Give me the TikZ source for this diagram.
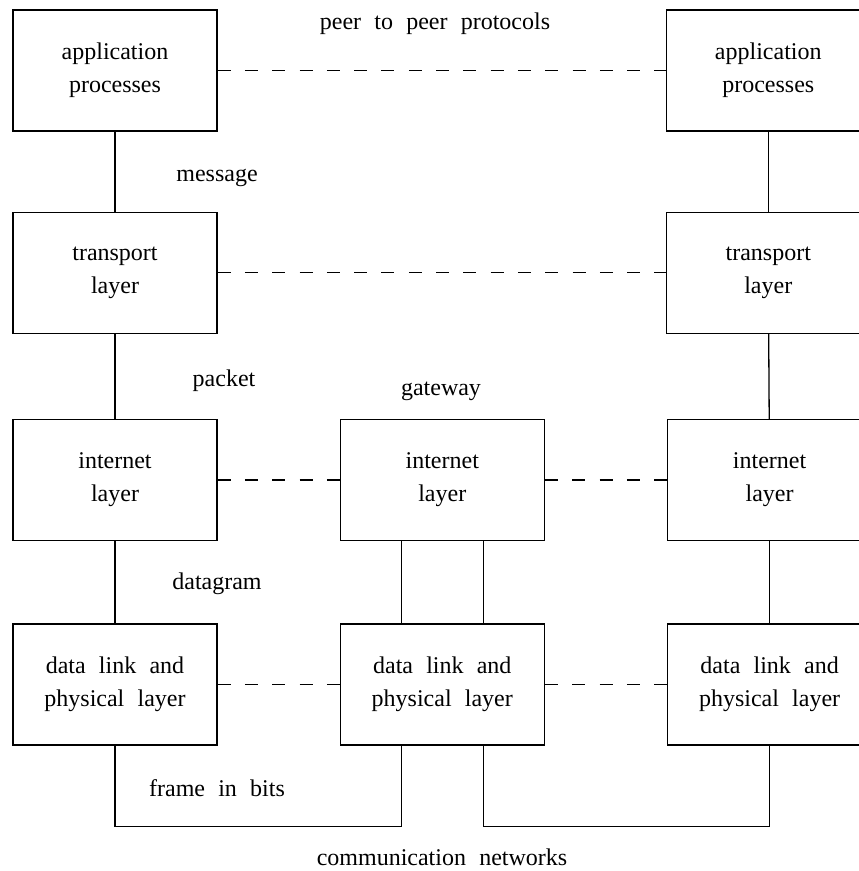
\documentclass[tikz,border=0pt]{standalone}
\usepackage{fontspec}
\setmainfont{Liberation Serif}[WordSpace=2.2]
\usetikzlibrary{positioning}
\tikzstyle{layer} = [rectangle, draw=black, line width=1.3pt, minimum width=204pt, minimum height=121pt, inner sep=0pt, align=center, font=\fontsize{24}{33}\selectfont]
\tikzstyle{peer} = [line width=1.3pt, dash pattern=on 13pt off 14.3pt]
\tikzstyle{link} = [line width=1.3pt]
\tikzstyle{tag} = [font=\fontsize{24}{33}\selectfont, inner sep=0pt]

\begin{document}
\begin{tikzpicture}[x=1pt, y=-1pt]
    \clip (0,0) rectangle (859,871);

    % Left host
    \node[layer] (appL) at (115,70.5) {application\\processes};
    \node[layer, below=80pt of appL] (trL) {transport\\layer};
    \node[layer, below=85pt of trL] (inL) {internet\\layer};
    \node[layer, below=82pt of inL] (dlL) {data link and\\physical layer};

    % Gateway
    \node[layer, right=122pt of inL] (inG) {internet\\layer};
    \node[layer, right=122pt of dlL] (dlG) {data link and\\physical layer};

    % Right host
    \node[layer, right=448pt of appL] (appR) {application\\processes};
    \node[layer, right=448pt of trL] (trR) {transport\\layer};
    \node[layer, right=122pt of inG] (inR) {internet\\layer};
    \node[layer, right=122pt of dlG] (dlR) {data link and\\physical layer};

    % Stacks
    \draw[link] (appL) -- (trL);
    \draw[link] (trL) -- (inL);
    \draw[link] (inL) -- (dlL);
    \draw[link] (appR) -- (trR);
    \draw[link] (trR) -- (inR);
    \draw[link] (inR) -- (dlR);
    \draw[link] ([xshift=-41pt]inG.south) -- ([xshift=-41pt]dlG.north);
    \draw[link] ([xshift=41pt]inG.south) -- ([xshift=41pt]dlG.north);

    % Networks
    \draw[link] ([xshift=-41pt]dlG.south) -- ++(0,81) -| (dlL.south);
    \draw[link] ([xshift=41pt]dlG.south) -- ++(0,81) -| (dlR.south);

    % Peer to peer
    \draw[peer] (appL) -- (appR);
    \draw[peer] (trL) -- (trR);
    \draw[peer] (inL) -- (inG);
    \draw[peer] (inG) -- (inR);
    \draw[peer] (dlL) -- (dlG);
    \draw[peer] (dlG) -- (dlR);

    % Labels
    \node[tag] (ptp) at (435,24) {peer to peer protocols};
    \node[tag] (msg) at (217,178) {message};
    \node[tag] (pkt) at (224,381) {packet};
    \node[tag] (gw) at (441,391) {gateway};
    \node[tag] (dgm) at (217,584) {datagram};
    \node[tag] (frm) at (217,788) {frame in bits};
    \node[tag] (net) at (442,857) {communication networks};
\end{tikzpicture}
\end{document}
